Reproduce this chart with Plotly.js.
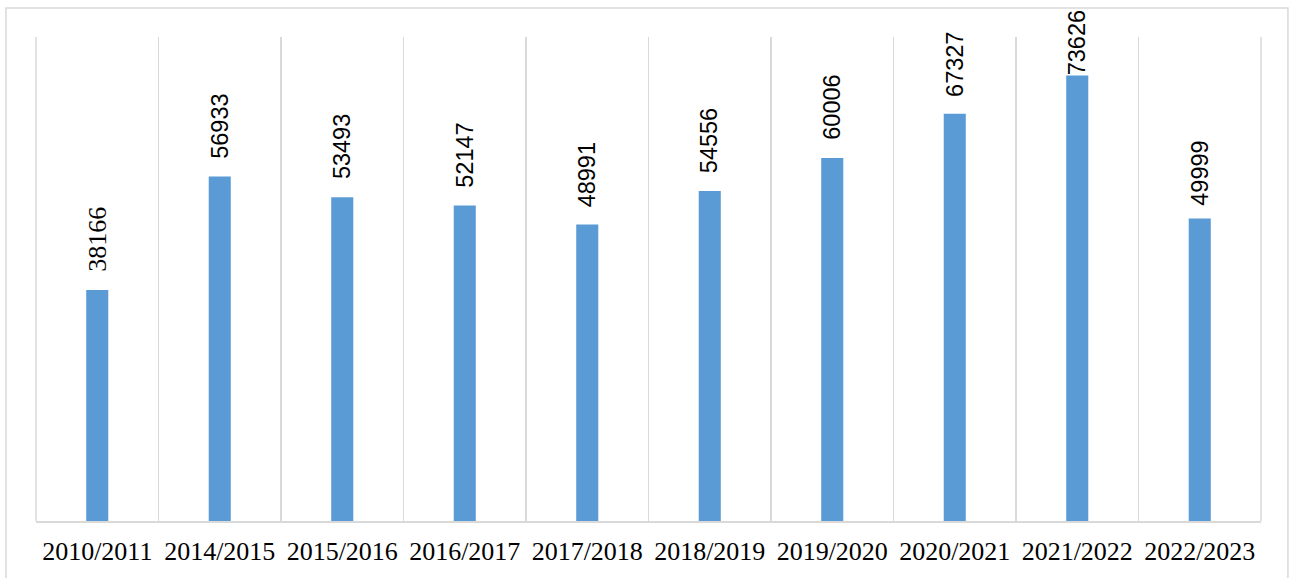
<!DOCTYPE html>
<html>
<head>
<meta charset="utf-8">
<script src="https://cdn.plot.ly/plotly-3.0.1.min.js"></script>
<style>html,body{margin:0;padding:0;background:#fff;}#chart{width:1290px;height:578px;}</style>
</head>
<body>
<div id="chart"></div>
<script>
const categories = ["2010/2011","2014/2015","2015/2016","2016/2017","2017/2018","2018/2019","2019/2020","2020/2021","2021/2022","2022/2023"];
const values = [38166, 56933, 53493, 52147, 48991, 54556, 60006, 67327, 73626, 49999];
// label styling (not data)
const labelFonts = ["Liberation Serif","Liberation Sans","Liberation Sans","Liberation Sans","Liberation Sans","Liberation Sans","Liberation Sans","Liberation Sans","Liberation Sans","Liberation Sans"];
const labelSizes = [26,23.5,23.5,23.5,23.5,23.5,23.5,23.5,23.5,23.5];
const labelOffsets = [16,16,16,16,15,16,16,15,-2,11];

const trace = {
  type: 'bar',
  x: categories,
  y: values,
  marker: {color: '#5b9bd5'},
  hoverinfo: 'x+y'
};

const annotations = categories.map((c, i) => ({
  x: c, y: values[i], xref: 'x', yref: 'y',
  text: String(values[i]),
  textangle: -90,
  showarrow: false,
  xanchor: 'center', yanchor: 'bottom',
  yshift: labelOffsets[i],
  font: {family: labelFonts[i], size: labelSizes[i], color: '#000'}
}));

const layout = {
  width: 1290, height: 578,
  margin: {l: 36, r: 29, t: 37, b: 57},
  paper_bgcolor: '#fff', plot_bgcolor: '#fff',
  showlegend: false,
  bargap: 0.82,
  font: {family: 'Liberation Serif', color: '#000'},
  xaxis: {
    type: 'category',
    tickson: 'boundaries',
    showgrid: true, gridcolor: '#d9d9d9', gridwidth: 1.5,
    showline: true, linecolor: '#d9d9d9', linewidth: 1.5,
    ticks: '', ticklabelstandoff: 6,
    tickfont: {family: 'Liberation Serif', size: 26, color: '#000'}
  },
  yaxis: {
    range: [0, 80000],
    showgrid: false, zeroline: false, showline: false,
    showticklabels: false, ticks: ''
  },
  annotations: annotations,
  shapes: [
    {type: 'rect', xref: 'paper', yref: 'paper',
     x0: -0.0245, x1: 1.022, y0: -0.3, y1: 1.06,
     line: {color: '#d9d9d9', width: 1.5}, fillcolor: 'rgba(0,0,0,0)', layer: 'below'},
    {type: 'line', xref: 'paper', yref: 'paper', x0: 0, x1: 0, y0: 0, y1: 1,
     line: {color: '#d9d9d9', width: 1.5}, layer: 'below'},
    {type: 'line', xref: 'paper', yref: 'paper', x0: 1, x1: 1, y0: 0, y1: 1,
     line: {color: '#d9d9d9', width: 1.5}, layer: 'below'}
  ]
};

Plotly.newPlot('chart', [trace], layout, {displayModeBar: false, staticPlot: true});
</script>
</body>
</html>
